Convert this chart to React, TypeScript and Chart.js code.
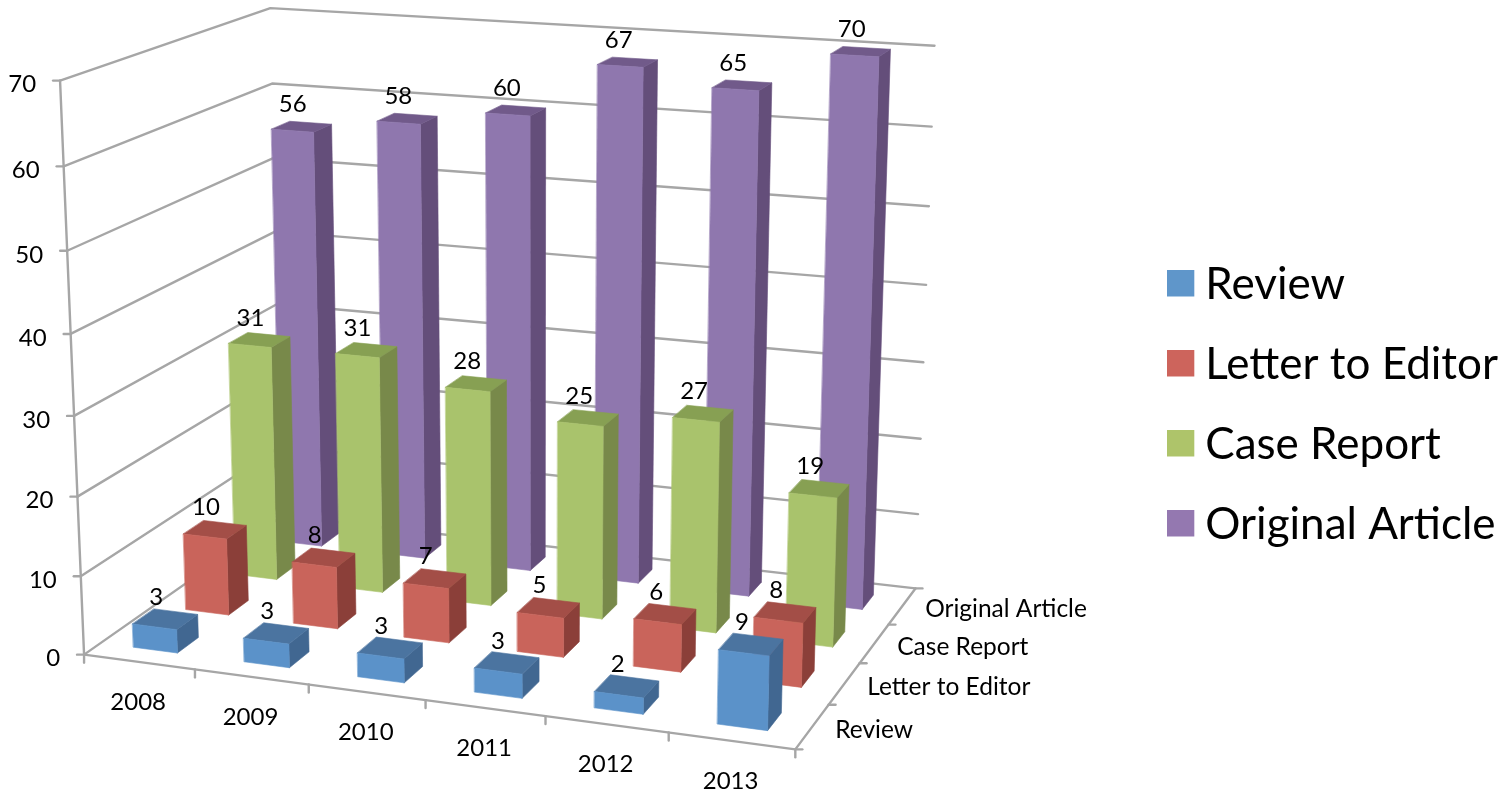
import React, { useEffect, useRef } from "react";
import { Chart, registerables } from "chart.js";

Chart.register(...registerables);

const years = ["2008", "2009", "2010", "2011", "2012", "2013"];
const seriesNames = ["Review", "Letter to Editor", "Case Report", "Original Article"];
const review = [3, 3, 3, 3, 2, 9];
const letterToEditor = [10, 8, 7, 5, 6, 8];
const caseReport = [31, 31, 28, 25, 27, 19];
const originalArticle = [56, 58, 60, 67, 65, 70];
const seriesValues = [review, letterToEditor, caseReport, originalArticle];

const frontColors = ["#5b92c9", "#c9645b", "#a9c36c", "#8f77ae"];
const sideColors = ["#416791", "#8b3f39", "#78894a", "#644e7a"];
const topColors = ["#4b74a0", "#a34e47", "#87a053", "#715a8a"];
const legendColors = ["#5f96ca", "#cd645c", "#aec46a", "#9478b0"];

const FONT = "Lato";
const AXIS_COLOR = "#a6a6a6";

// Where the corners of the 3-D plot box fall on the page: [u, v, w, pageX, pageY].
const frameCalibration = [
  [0, 0, 0, 82, 656],
  [0, 0, 1, 62, 80],
  [1, 0, 0, 795, 748],
  [1, 1, 0, 915, 589],
  [1, 1, 1, 935, 45],
  [0, 1, 1, 267, 9],
  [0, 1, 0, 285, 514],
  [0, 0, 6 / 7, 65, 166],
  [0, 0, 1 / 7, 80, 577],
  [1, 1, 6 / 7, 932, 127],
  [1, 1, 1 / 7, 918, 515],
];

function solveProjection(pts: number[][]) {
  const n = 11;
  const A = Array.from({ length: n }, () => new Array(n + 1).fill(0));
  const add = (row: number[], rhs: number) => {
    for (let i = 0; i < n; i++) {
      for (let j = 0; j < n; j++) A[i][j] += row[i] * row[j];
      A[i][n] += row[i] * rhs;
    }
  };
  for (const [X, Y, Z, x, y] of pts) {
    add([X, Y, Z, 1, 0, 0, 0, 0, -x * X, -x * Y, -x * Z], x);
    add([0, 0, 0, 0, X, Y, Z, 1, -y * X, -y * Y, -y * Z], y);
  }
  for (let c = 0; c < n; c++) {
    let p = c;
    for (let r = c + 1; r < n; r++) if (Math.abs(A[r][c]) > Math.abs(A[p][c])) p = r;
    [A[c], A[p]] = [A[p], A[c]];
    for (let r = 0; r < n; r++) {
      if (r === c) continue;
      const f = A[r][c] / A[c][c];
      for (let k = c; k <= n; k++) A[r][k] -= f * A[c][k];
    }
  }
  return A.map((row, i) => row[n] / row[i]);
}

const P = solveProjection(frameCalibration);
const project = (u: number, v: number, w: number): [number, number] => {
  const d = P[8] * u + P[9] * v + P[10] * w + 1;
  return [
    (P[0] * u + P[1] * v + P[2] * w + P[3]) / d,
    (P[4] * u + P[5] * v + P[6] * w + P[7]) / d,
  ];
};

function polyline(ctx: CanvasRenderingContext2D, pts: [number, number][]) {
  ctx.beginPath();
  pts.forEach((p, i) => (i ? ctx.lineTo(p[0], p[1]) : ctx.moveTo(p[0], p[1])));
}

function face(ctx: CanvasRenderingContext2D, pts: [number, number][], color: string) {
  polyline(ctx, pts);
  ctx.closePath();
  ctx.fillStyle = color;
  ctx.fill();
  ctx.strokeStyle = color;
  ctx.lineWidth = 0.6;
  ctx.stroke();
}

const bars3D = {
  id: "bars3D",
  beforeDatasetsDraw(chart: any) {
    const ctx: CanvasRenderingContext2D = chart.ctx;
    const xs = chart.scales.x;
    const ys = chart.scales.y;
    const nCat = chart.data.labels.length;
    const nSer = chart.data.datasets.length;
    const uOf = (px: number) => (px - xs.left) / xs.width;
    const wOf = (py: number) => (ys.bottom - py) / ys.height;

    ctx.save();
    ctx.lineCap = "round";
    ctx.lineJoin = "round";
    // walls
    ctx.strokeStyle = AXIS_COLOR;
    ctx.lineWidth = 2.4;
    ys.ticks.forEach((t: any) => {
      const w = wOf(ys.getPixelForValue(t.value));
      polyline(ctx, [project(0, 0, w), project(0, 1, w), project(1, 1, w)]);
      ctx.stroke();
      const a = project(0, 0, w);
      polyline(ctx, [a, [a[0] - 7, a[1]]]);
      ctx.stroke();
    });
    polyline(ctx, [project(0, 0, 1), project(0, 0, 0), project(1, 0, 0), project(1, 1, 0)]);
    ctx.stroke();
    // category ticks
    for (let i = 0; i <= nCat; i++) {
      const a = project(i / nCat, 0, 0);
      polyline(ctx, [a, [a[0], a[1] + 8]]);
      ctx.stroke();
    }
    // depth ticks
    for (let j = 0; j <= nSer; j++) {
      const a = project(1, j / nSer, 0);
      polyline(ctx, [a, [a[0] + 7, a[1]]]);
      ctx.stroke();
    }

    // bars, back row first
    const labels: { text: string; x: number; y: number }[] = [];
    for (let s = nSer - 1; s >= 0; s--) {
      const meta = chart.getDatasetMeta(s);
      const v0 = (s + 0.3) / nSer;
      const v1 = (s + 0.7) / nSer;
      meta.data.forEach((bar: any, i: number) => {
        const u0 = uOf(bar.x - bar.width / 2);
        const u1 = uOf(bar.x + bar.width / 2);
        const w0 = wOf(bar.base);
        const w1 = wOf(bar.y);
        face(ctx, [project(u1, v0, w0), project(u1, v1, w0), project(u1, v1, w1), project(u1, v0, w1)], sideColors[s]);
        face(ctx, [project(u0, v0, w1), project(u1, v0, w1), project(u1, v1, w1), project(u0, v1, w1)], topColors[s]);
        face(ctx, [project(u0, v0, w0), project(u1, v0, w0), project(u1, v0, w1), project(u0, v0, w1)], frontColors[s]);
        const c = project((u0 + u1) / 2, (v0 + v1) / 2, w1);
        labels.push({ text: String(chart.data.datasets[s].data[i]), x: c[0] - 9, y: c[1] - 22 });
      });
    }

    // value labels
    ctx.fillStyle = "#000";
    ctx.textBaseline = "middle";
    ctx.textAlign = "center";
    ctx.font = `24px ${FONT}`;
    labels.forEach((l) => ctx.fillText(l.text, l.x, l.y));

    // value axis labels
    ctx.textAlign = "right";
    ys.ticks.forEach((t: any) => {
      const p = project(0, 0, wOf(ys.getPixelForValue(t.value)));
      ctx.fillText(String(t.value), p[0] - 24, p[1] + 4);
    });

    // category labels
    ctx.textAlign = "center";
    chart.data.labels.forEach((lab: string, i: number) => {
      const p = project((i + 0.5) / nCat, 0, 0);
      ctx.fillText(lab, p[0] - 1, p[1] + 40);
    });

    // depth labels
    ctx.font = `24.5px ${FONT}`;
    ctx.textAlign = "left";
    chart.data.datasets.forEach((d: any, s: number) => {
      const p = project(1, (s + 0.5) / nSer, 0);
      ctx.fillText(d.label, p[0] + 23, p[1] + 3);
    });
    ctx.restore();
    return false;
  },
};

function swatch(color: string) {
  const c = document.createElement("canvas");
  c.width = 31;
  c.height = 31;
  const g = c.getContext("2d")!;
  g.fillStyle = color;
  g.fillRect(0, 0, 27, 27);
  return c;
}

export default function App() {
  const ref = useRef<HTMLCanvasElement>(null);
  useEffect(() => {
    document.body.style.margin = "0";
    const chart = new Chart(ref.current!, {
      type: "bar",
      data: {
        labels: years,
        datasets: seriesNames.map((label, s) => ({
          label,
          data: seriesValues[s],
          backgroundColor: frontColors[s],
        })),
      },
      options: {
        responsive: false,
        animation: false,
        layout: { padding: { top: 18, right: 0 } },
        datasets: { bar: { grouped: false, barPercentage: 0.4, categoryPercentage: 1 } },
        scales: {
          x: { display: false },
          y: { display: false, min: 0, max: 70, ticks: { stepSize: 10 } },
        },
        plugins: {
          tooltip: { enabled: false },
          legend: {
            display: true,
            position: "right",
            labels: {
              usePointStyle: true,
              pointStyleWidth: 1,
              padding: 36,
              color: "#000",
              font: { family: FONT, size: 44 },
              generateLabels: () =>
                seriesNames.map((text, s) => ({
                  text,
                  pointStyle: swatch(legendColors[s]),
                  datasetIndex: s,
                  fontColor: "#000",
                  lineWidth: 0,
                  hidden: false,
                })),
            },
          },
        },
      } as any,
      plugins: [bars3D],
    });
    return () => chart.destroy();
  }, []);
  return (
    <div style={{ position: "absolute", left: 0, top: 0, width: 1508, height: 792, background: "#fff" }}>
      <canvas ref={ref} width={1508} height={792} style={{ display: "block" }} />
    </div>
  );
}
